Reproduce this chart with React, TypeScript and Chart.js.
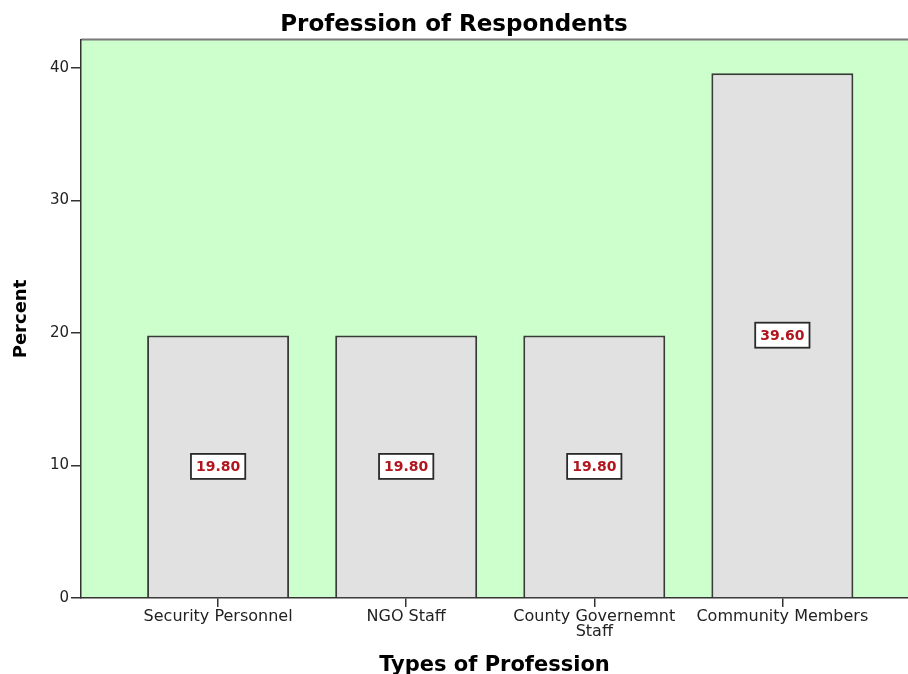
import React, { useEffect, useRef } from 'react';
import { Chart, registerables } from 'chart.js';

Chart.register(...registerables);

// Survey result: share of respondents by profession (percent)
const professions = ['Security Personnel', 'NGO Staff', 'County Governemnt\nStaff', 'Community Members'];
const percents = [19.8, 19.8, 19.8, 39.6];
const percentTicks = [0, 10, 20, 30, 40];

const FONT = 'DejaVu Sans';
const PLOT_GREEN = '#CCFFCC';
const BAR_GREY = '#E1E1E1';
const LINE_DARK = '#333333';

// Fills the plot area and draws its grey top frame line.
const plotBackground = {
  id: 'plotBackground',
  beforeDraw(chart: any) {
    const { ctx, chartArea } = chart;
    const { left, top, right, bottom } = chartArea;
    ctx.save();
    ctx.fillStyle = PLOT_GREEN;
    ctx.fillRect(left, top, right - left, bottom - top);
    ctx.strokeStyle = '#7a7a7a';
    ctx.lineWidth = 2;
    ctx.beginPath();
    ctx.moveTo(left, top - 0.5);
    ctx.lineTo(right, top - 0.5);
    ctx.stroke();
    ctx.restore();
  },
};

// Boxed percentage labels placed at the middle of each bar.
const valueLabels = {
  id: 'valueLabels',
  afterDatasetsDraw(chart: any) {
    const { ctx } = chart;
    const meta = chart.getDatasetMeta(0);
    ctx.save();
    ctx.font = `bold 14px "${FONT}"`;
    ctx.textAlign = 'center';
    ctx.textBaseline = 'middle';
    meta.data.forEach((bar: any, i: number) => {
      const { x, y, base } = bar.getProps(['x', 'y', 'base'], true);
      const cy = (y + base) / 2;
      const text = percents[i].toFixed(2);
      const w = ctx.measureText(text).width + 10;
      const h = 25;
      ctx.fillStyle = '#ffffff';
      ctx.fillRect(x - w / 2, cy - h / 2, w, h);
      ctx.strokeStyle = '#2a2a2a';
      ctx.lineWidth = 1.8;
      ctx.strokeRect(x - w / 2, cy - h / 2, w, h);
      ctx.fillStyle = '#B0161E';
      ctx.fillText(text, x, cy + 1);
    });
    ctx.restore();
  },
};

export default function App() {
  const canvasRef = useRef<HTMLCanvasElement | null>(null);

  useEffect(() => {
    const canvas = canvasRef.current;
    if (!canvas) return;

    const chart = new Chart(canvas, {
      type: 'bar',
      data: {
        datasets: [
          {
            label: 'Percent',
            data: percents.map((v, i) => ({ x: i + 1, y: v })),
            backgroundColor: BAR_GREY,
            borderColor: '#3a3a3a',
            borderWidth: 2,
            categoryPercentage: 1,
            barPercentage: 0.755,
          },
        ],
      },
      options: {
        responsive: false,
        animation: false,
        layout: { padding: 0 },
        plugins: {
          legend: { display: false },
          tooltip: { enabled: false },
          title: {
            display: true,
            text: 'Profession of Respondents',
            color: '#000',
            font: { family: FONT, size: 23, weight: 'bold' },
            padding: { top: 11, bottom: 1.4 },
          },
        },
        scales: {
          x: {
            type: 'linear',
            offset: false,
            min: 0.271,
            max: 4.668,
            afterBuildTicks: (scale: any) => {
              scale.ticks = professions.map((_, i) => ({ value: i + 1 }));
            },
            afterFit: (scale: any) => {
              scale.height = 76;
              scale.paddingLeft = 0;
              scale.paddingRight = 0;
            },
            ticks: {
              autoSkip: false,
              maxRotation: 0,
              minRotation: 0,
              padding: 2,
              color: '#222',
              font: { family: FONT, size: 16, lineHeight: 0.95 },
              callback: (value: any) => {
                const label = professions[Number(value) - 1];
                return label ? label.split('\n') : '';
              },
            },
            grid: {
              offset: false,
              drawOnChartArea: false,
              drawTicks: true,
              tickLength: 9,
              color: LINE_DARK,
              lineWidth: 1.5,
            },
            border: { display: true, color: LINE_DARK, width: 1.5 },
            title: {
              display: true,
              text: 'Types of Profession',
              color: '#000',
              font: { family: FONT, size: 21, weight: 'bold', lineHeight: 0.8 },
              padding: { top: 0, bottom: 0.5 },
            },
          },
          y: {
            min: 0,
            max: 42.1,
            afterBuildTicks: (scale: any) => {
              scale.ticks = percentTicks.map((v) => ({ value: v }));
            },
            afterFit: (scale: any) => {
              scale.width = 81;
              scale.paddingTop = 0;
              scale.paddingBottom = 0;
            },
            ticks: {
              padding: 2,
              color: '#222',
              font: { family: FONT, size: 15 },
            },
            grid: {
              drawOnChartArea: false,
              drawTicks: true,
              tickLength: 10,
              color: LINE_DARK,
              lineWidth: 1.5,
            },
            border: { display: true, color: LINE_DARK, width: 1.5 },
            title: {
              display: true,
              text: 'Percent',
              color: '#000',
              font: { family: FONT, size: 18, weight: 'bold' },
              padding: { top: 11, bottom: 0 },
            },
          },
        },
      },
      plugins: [plotBackground, valueLabels],
    });

    return () => chart.destroy();
  }, []);

  return (
    <div style={{ position: 'absolute', left: 0, top: 0, width: 908, height: 674, background: '#fff' }}>
      <canvas ref={canvasRef} width={908} height={674} />
    </div>
  );
}
